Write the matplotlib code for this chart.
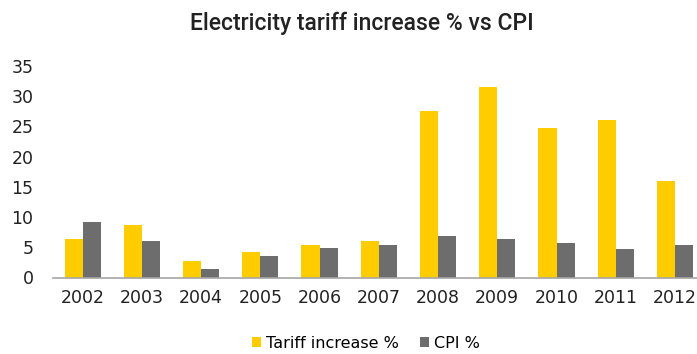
import numpy as np
import matplotlib.pyplot as plt

years = ['2002', '2003', '2004', '2005', '2006', '2007', '2008', '2009', '2010', '2011', '2012']
tariff = [6.3, 8.7, 2.7, 4.2, 5.4, 6.0, 27.6, 31.6, 24.8, 26.0, 16.0]
cpi = [9.2, 6.0, 1.4, 3.5, 4.8, 5.4, 6.9, 6.3, 5.7, 4.75, 5.4]

yellow = '#FFCC00'
grey = '#6D6D6D'

fig = plt.figure(figsize=(6.97, 3.54), dpi=100)
ax = fig.add_axes([53 / 697, 76.5 / 354, 651.6 / 697, 211.5 / 354])

x = np.arange(len(years))
w = 0.305
ax.bar(x - w / 2, tariff, w, color=yellow, label='Tariff increase %')
ax.bar(x + w / 2, cpi, w, color=grey, label='CPI %')

ax.set_xlim(-0.5, len(years) - 0.5)
ax.set_ylim(0, 35)
ax.set_yticks(range(0, 36, 5))
ax.set_xticks(x)
ax.set_xticklabels(years)
ax.tick_params(length=0, labelsize=12.5, colors='#222222')
ax.tick_params(axis='y', pad=14)
ax.tick_params(axis='x', pad=8)
for s in ['top', 'right', 'left']:
    ax.spines[s].set_visible(False)
ax.spines['bottom'].set_color('#A6A6A6')
ax.spines['bottom'].set_linewidth(1.2)

fig.text(0.519, 0.935, 'Electricity tariff increase % vs CPI', ha='center', va='center',
         fontsize=16.5, family='Roboto', fontweight='medium', color='#222222')

fig.legend(loc='center', bbox_to_anchor=(0.525, 0.03), ncol=2, frameon=False,
           fontsize=11.5, handlelength=0.6, handleheight=0.6, handletextpad=0.3,
           columnspacing=1.3)

plt.savefig('out.png', dpi=100)
